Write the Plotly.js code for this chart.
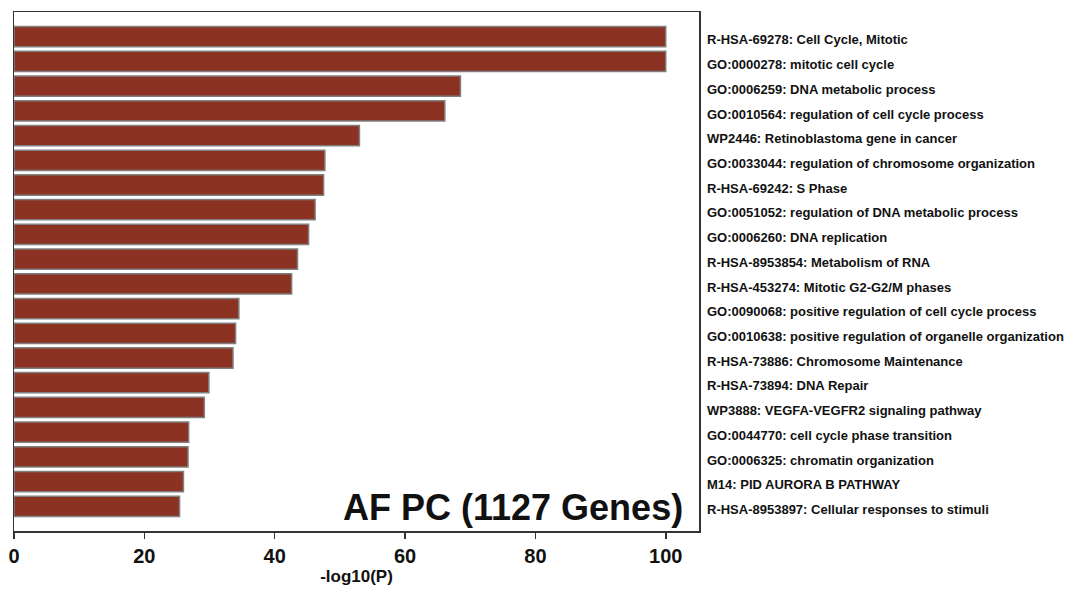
<!DOCTYPE html>
<html>
<head>
<meta charset="utf-8">
<script src="https://cdn.plot.ly/plotly-3.0.1.min.js"></script>
<style>html,body{margin:0;padding:0;background:#fff;}#chart{width:1071px;height:593px;}</style>
</head>
<body>
<div id="chart"></div>
<script>
const terms = [
  "R-HSA-69278: Cell Cycle, Mitotic",
  "GO:0000278: mitotic cell cycle",
  "GO:0006259: DNA metabolic process",
  "GO:0010564: regulation of cell cycle process",
  "WP2446: Retinoblastoma gene in cancer",
  "GO:0033044: regulation of chromosome organization",
  "R-HSA-69242: S Phase",
  "GO:0051052: regulation of DNA metabolic process",
  "GO:0006260: DNA replication",
  "R-HSA-8953854: Metabolism of RNA",
  "R-HSA-453274: Mitotic G2-G2/M phases",
  "GO:0090068: positive regulation of cell cycle process",
  "GO:0010638: positive regulation of organelle organization",
  "R-HSA-73886: Chromosome Maintenance",
  "R-HSA-73894: DNA Repair",
  "WP3888: VEGFA-VEGFR2 signaling pathway",
  "GO:0044770: cell cycle phase transition",
  "GO:0006325: chromatin organization",
  "M14: PID AURORA B PATHWAY",
  "R-HSA-8953897: Cellular responses to stimuli"
];
const logP = [100, 100, 68.5, 66.1, 53.0, 47.7, 47.5, 46.2, 45.2, 43.5,
              42.6, 34.5, 34.0, 33.6, 29.9, 29.2, 26.8, 26.7, 26.0, 25.4];
const xTicks = [0, 20, 40, 60, 80, 100];
const xTitle = "-log10(P)";
const chartLabel = "AF PC (1127 Genes)";

const positions = terms.map((_, i) => i);

const trace = {
  type: "bar",
  orientation: "h",
  x: logP,
  y: positions,
  marker: {color: "#8b3223", line: {color: "#808080", width: 1.5}},
  width: 0.82,
  hoverinfo: "x+text",
  text: terms,
  textposition: "none"
};
// invisible helper trace so the label axis is drawn
const labelTrace = {
  type: "scatter", mode: "markers",
  x: [null], y: [null],
  yaxis: "y2", hoverinfo: "skip", showlegend: false
};

const font = "Liberation Sans, Arial, sans-serif";
const shift = 0.13;

const layout = {
  width: 1071, height: 593,
  margin: {l: 14, r: 372, t: 12, b: 62},
  paper_bgcolor: "#fff", plot_bgcolor: "#fff",
  showlegend: false,
  xaxis: {
    range: [0, 105.1],
    tickvals: xTicks,
    ticktext: xTicks.map(String),
    ticks: "outside", ticklen: 6, tickwidth: 1.5, tickcolor: "#333",
    tickfont: {family: font, size: 20, color: "#111", weight: "bold"},
    showgrid: false, zeroline: false,
    showline: true, linecolor: "#333", linewidth: 1.5, mirror: true,
    title: {text: "<b>" + xTitle + "</b>", font: {family: font, size: 17, color: "#111"}, standoff: 4}
  },
  yaxis: {
    range: [20, -1],
    showticklabels: false,
    ticks: "",
    showgrid: false, zeroline: false,
    showline: true, linecolor: "#333", linewidth: 1.5, mirror: true
  },
  yaxis2: {
    overlaying: "y",
    side: "right",
    range: [20 - shift, -1 - shift],
    tickvals: positions,
    ticktext: terms,
    ticks: "", ticklabelstandoff: 7,
    tickfont: {family: font, size: 13, color: "#111", weight: "bold"},
    showgrid: false, zeroline: false, showline: false
  },
  annotations: [{
    text: "<b>" + chartLabel + "</b>",
    xref: "paper", yref: "paper",
    x: 0.98, y: 0.046, xanchor: "right", yanchor: "middle",
    showarrow: false,
    font: {family: font, size: 36, color: "#111"}
  }]
};

Plotly.newPlot("chart", [trace, labelTrace], layout, {displayModeBar: false, staticPlot: true});
</script>
</body>
</html>
